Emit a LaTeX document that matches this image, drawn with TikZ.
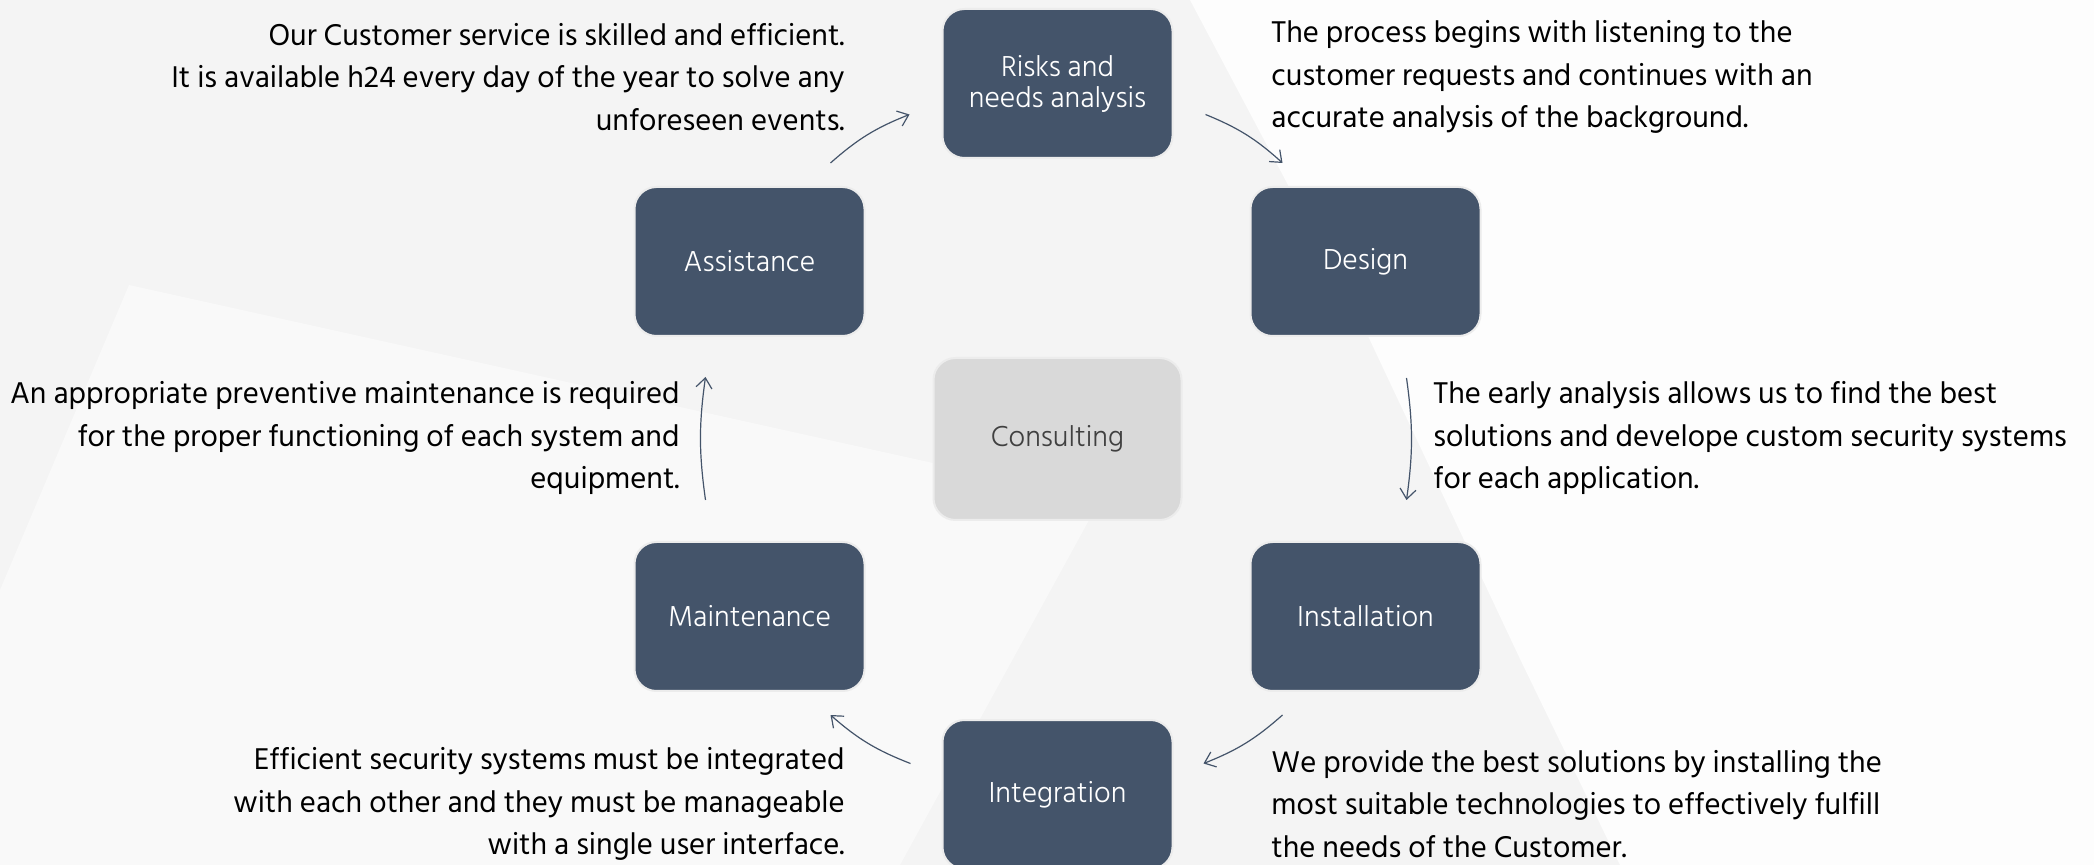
\documentclass[tikz,border=0pt]{standalone}
\usepackage{fontspec}
\setmainfont{Hind Siliguri}
\newfontfamily\stagefont{Hind Siliguri Light}
\usetikzlibrary{positioning, arrows.meta}

\definecolor{slate}{HTML}{44546A}
\definecolor{softgray}{HTML}{D9D9D9}
\definecolor{coretext}{HTML}{404040}
\definecolor{bgmid}{HTML}{F4F4F4}
\definecolor{bglight}{HTML}{F9F9F9}
\definecolor{bgwhite}{HTML}{FDFDFD}

\begin{document}
\begin{tikzpicture}[x=0.5pt, y=-0.5pt, on grid,
		stage/.style={rectangle, rounded corners=11pt, fill=slate, draw=gray!15, line width=1pt,
			minimum width=115pt, minimum height=74.5pt, align=center, text=white,
			font=\stagefont\fontsize{14.8}{15.5}\selectfont},
		core/.style={stage, fill=softgray, text=coretext, minimum width=124pt, minimum height=81pt},
		note/.style={inner sep=0pt, text=black, font=\fontsize{15.4}{21.1}\selectfont},
		flow/.style={-{Straight Barb[length=5pt, width=8pt]}, slate, line width=0.6pt}]
		\useasboundingbox (0,0) rectangle (2094,865);

		% faint background planes
		\fill[bgmid] (0,0) rectangle (2094,865);
		\fill[bgwhite] (1190,0) -- (2094,0) -- (2094,865) -- (1620,865) -- (1521,661) -- (1368,336) -- cycle;
		\fill[bglight] (129,285) -- (1100,500) -- (900,865) -- (0,865) -- (0,590) -- cycle;

		\node [core] at (1057.5,439) (consult) {Consulting};
		\node [stage, above=177.75pt of consult] (risk) {Risks and\\needs analysis};
		\node [stage, above right=88.75pt and 154pt of consult] (design) {Design};
		\node [stage, below right=88.75pt and 154pt of consult] (install) {Installation};
		\node [stage, below=177.75pt of consult] (integr) {Integration};
		\node [stage, below left=88.75pt and 154pt of consult] (maint) {Maintenance};
		\node [stage, above left=88.75pt and 154pt of consult] (assist) {Assistance};

		\node [note, anchor=east, align=right] at (845,77) (assistnote) {Our Customer service is skilled and efficient.\\It is available h24 every day of the year to solve any\\unforeseen events.};
		\node [note, anchor=west, align=left] at (1271,77) (risknote) {The process begins with listening to the\\customer requests and continues with an\\accurate analysis of the background.};
		\node [note, anchor=east, align=right] at (680,438) (maintnote) {An appropriate preventive maintenance is required\\for the proper functioning of each system and\\equipment.};
		\node [note, anchor=west, align=left] at (1433,438) (designnote) {The early analysis allows us to find the best\\solutions and develope custom security systems\\for each application.};
		\node [note, anchor=east, align=right] at (845,804) (integrnote) {Efficient security systems must be integrated\\with each other and they must be manageable\\with a single user interface.};
		\node [note, anchor=west, align=left] at (1271,804) (installnote) {We provide the best solutions by installing the\\most suitable technologies to effectively fulfill\\the needs of the Customer.};

		\path[flow] ([shift={(81,-23)}]assist.north) edge [bend left=10] ([shift={(-32,31)}]risk.west);
		\path[flow] ([shift={(32,31)}]risk.east) edge [bend left=10] ([shift={(-83,-23)}]design.north);
		\path[flow] ([shift={(41,41)}]design.south) edge [bend left=8] ([shift={(41,-41)}]install.north);
		\path[flow] ([shift={(-83,23)}]install.south) edge [bend left=10] ([shift={(30,-31)}]integr.east);
		\path[flow] ([shift={(-31,-31)}]integr.west) edge [bend left=10] ([shift={(81,23)}]maint.south);
		\path[flow] ([shift={(-44,-41)}]maint.north) edge [bend left=8] ([shift={(-44,40)}]assist.south);
	\end{tikzpicture}
\end{document}
